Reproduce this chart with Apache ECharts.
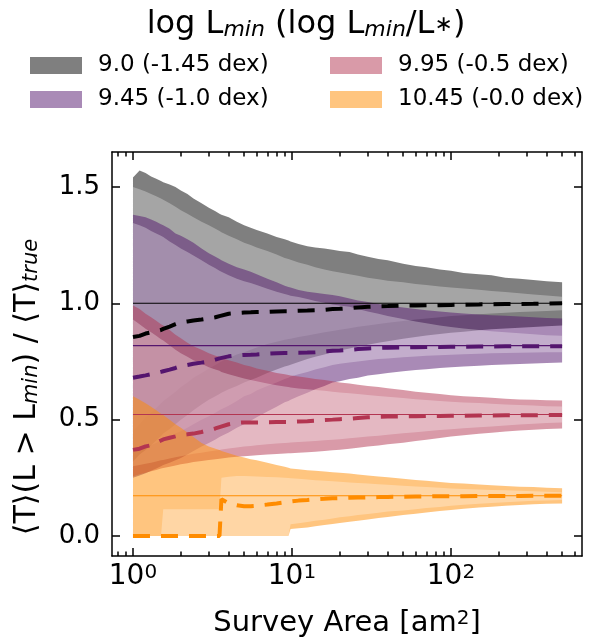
<!DOCTYPE html>
<html><head><meta charset="utf-8">
<script src="https://cdn.jsdelivr.net/npm/echarts@6/dist/echarts.min.js"></script>
<style>html,body{margin:0;padding:0;background:#fff}#c{width:612px;height:638px}</style>
</head><body><div id="c"></div>
<script>
// ---------- data ----------
const area = [1, 1.1, 1.2, 1.3, 1.4, 1.5, 1.55, 1.7, 1.85, 2,
  2.2, 2.4, 2.7, 3, 3.3, 3.5, 3.6, 4, 4.5, 5,
  5.5, 6, 7, 8, 9, 9.5, 9.8, 11, 12.5, 14,
  16, 18, 20, 23, 26, 30, 35, 40, 50, 60,
  70, 85, 100, 120, 150, 180, 220, 270, 330, 400, 500];

// each group: outer-lower, inner-lower, median, inner-upper, outer-upper
const grayOU = [1.54, 1.57, 1.56, 1.545, 1.535, 1.525, 1.52, 1.51, 1.50, 1.485,
  1.47, 1.45, 1.43, 1.41, 1.395, 1.385, 1.38, 1.37, 1.35, 1.335,
  1.325, 1.315, 1.30, 1.285, 1.275, 1.27, 1.265, 1.255, 1.245, 1.24,
  1.235, 1.23, 1.225, 1.22, 1.21, 1.20, 1.19, 1.185, 1.17, 1.16,
  1.155, 1.145, 1.14, 1.13, 1.125, 1.12, 1.11, 1.105, 1.10, 1.095, 1.09];
const grayIU = [1.50, 1.49, 1.48, 1.47, 1.46, 1.45, 1.445, 1.43, 1.415, 1.40,
  1.385, 1.37, 1.35, 1.335, 1.32, 1.31, 1.305, 1.29, 1.275, 1.26,
  1.25, 1.24, 1.225, 1.21, 1.195, 1.19, 1.187, 1.175, 1.165, 1.155,
  1.145, 1.138, 1.132, 1.125, 1.118, 1.11, 1.103, 1.097, 1.09, 1.083,
  1.078, 1.072, 1.068, 1.063, 1.058, 1.053, 1.048, 1.043, 1.038, 1.033, 1.028];
const grayMD = [0.855, 0.86, 0.87, 0.875, 0.88, 0.885, 0.89, 0.90, 0.91, 0.918,
  0.922, 0.926, 0.93, 0.935, 0.94, 0.945, 0.948, 0.955, 0.958, 0.96,
  0.961, 0.962, 0.963, 0.965, 0.966, 0.966, 0.967, 0.968, 0.969, 0.97,
  0.972, 0.975, 0.976, 0.979, 0.982, 0.985, 0.987, 0.988, 0.99, 0.99,
  0.991, 0.992, 0.993, 0.994, 0.995, 0.996, 0.997, 0.997, 0.998, 0.999, 1.0];
const grayIL = [0.45, 0.48, 0.51, 0.53, 0.55, 0.57, 0.58, 0.60, 0.62, 0.64,
  0.66, 0.68, 0.70, 0.72, 0.735, 0.745, 0.75, 0.765, 0.78, 0.79,
  0.80, 0.81, 0.825, 0.835, 0.843, 0.846, 0.848, 0.855, 0.862, 0.868,
  0.875, 0.881, 0.886, 0.893, 0.899, 0.905, 0.911, 0.916, 0.924, 0.93,
  0.935, 0.94, 0.945, 0.949, 0.953, 0.956, 0.959, 0.962, 0.965, 0.967, 0.97];
const grayOL = [0.32, 0.35, 0.37, 0.39, 0.41, 0.43, 0.44, 0.46, 0.48, 0.50,
  0.52, 0.54, 0.565, 0.585, 0.60, 0.61, 0.615, 0.63, 0.645, 0.66,
  0.67, 0.68, 0.70, 0.715, 0.728, 0.733, 0.736, 0.748, 0.76, 0.77,
  0.78, 0.79, 0.797, 0.806, 0.814, 0.822, 0.83, 0.837, 0.847, 0.855,
  0.861, 0.868, 0.873, 0.878, 0.884, 0.888, 0.892, 0.895, 0.898, 0.901, 0.904];

const purpleOU = [1.38, 1.375, 1.37, 1.36, 1.35, 1.34, 1.335, 1.32, 1.30, 1.29,
  1.275, 1.26, 1.235, 1.215, 1.20, 1.19, 1.185, 1.17, 1.155, 1.145,
  1.135, 1.125, 1.105, 1.09, 1.075, 1.07, 1.068, 1.057, 1.05, 1.045,
  1.04, 1.035, 1.03, 1.02, 1.012, 1.005, 0.997, 0.99, 0.982, 0.975,
  0.97, 0.965, 0.96, 0.956, 0.952, 0.949, 0.946, 0.943, 0.94, 0.937, 0.935];
const purpleIU = [1.345, 1.335, 1.325, 1.31, 1.30, 1.29, 1.285, 1.265, 1.25, 1.235,
  1.22, 1.205, 1.185, 1.165, 1.15, 1.14, 1.135, 1.12, 1.105, 1.095,
  1.087, 1.078, 1.062, 1.05, 1.04, 1.035, 1.032, 1.027, 1.018, 1.01,
  1.002, 0.995, 0.99, 0.985, 0.975, 0.965, 0.955, 0.945, 0.932, 0.922,
  0.914, 0.905, 0.898, 0.892, 0.885, 0.88, 0.875, 0.871, 0.867, 0.863, 0.86];
const purpleMD = [0.68, 0.685, 0.69, 0.695, 0.70, 0.705, 0.708, 0.715, 0.722, 0.73,
  0.735, 0.74, 0.745, 0.75, 0.758, 0.763, 0.765, 0.772, 0.776, 0.778,
  0.779, 0.78, 0.783, 0.785, 0.786, 0.786, 0.787, 0.787, 0.788, 0.79,
  0.793, 0.796, 0.797, 0.80, 0.803, 0.806, 0.808, 0.809, 0.81, 0.811,
  0.812, 0.812, 0.813, 0.813, 0.814, 0.814, 0.815, 0.815, 0.815, 0.815, 0.815];
const purpleIL = [0.36, 0.37, 0.38, 0.39, 0.40, 0.41, 0.415, 0.425, 0.44, 0.45,
  0.465, 0.48, 0.50, 0.515, 0.53, 0.54, 0.545, 0.56, 0.58, 0.60,
  0.61, 0.625, 0.645, 0.66, 0.675, 0.68, 0.685, 0.695, 0.705, 0.715,
  0.725, 0.735, 0.74, 0.745, 0.75, 0.755, 0.76, 0.763, 0.768, 0.771,
  0.774, 0.777, 0.779, 0.781, 0.783, 0.785, 0.786, 0.787, 0.788, 0.789, 0.79];
const purpleOL = [0.25, 0.26, 0.27, 0.28, 0.29, 0.30, 0.305, 0.315, 0.325, 0.335,
  0.35, 0.365, 0.385, 0.40, 0.415, 0.425, 0.43, 0.445, 0.465, 0.48,
  0.495, 0.51, 0.535, 0.555, 0.575, 0.58, 0.585, 0.60, 0.615, 0.63,
  0.645, 0.66, 0.665, 0.675, 0.68, 0.69, 0.695, 0.70, 0.708, 0.713,
  0.717, 0.722, 0.725, 0.728, 0.732, 0.735, 0.737, 0.739, 0.741, 0.743, 0.745];

const pinkOU = [0.99, 0.975, 0.955, 0.94, 0.925, 0.91, 0.905, 0.885, 0.865, 0.85,
  0.83, 0.815, 0.80, 0.785, 0.775, 0.77, 0.765, 0.755, 0.745, 0.735,
  0.728, 0.72, 0.71, 0.70, 0.695, 0.692, 0.69, 0.685, 0.68, 0.675,
  0.67, 0.665, 0.66, 0.655, 0.65, 0.645, 0.64, 0.635, 0.627, 0.62,
  0.615, 0.61, 0.605, 0.60, 0.597, 0.594, 0.59, 0.587, 0.585, 0.583, 0.582];
const pinkIU = [0.93, 0.91, 0.89, 0.875, 0.86, 0.845, 0.84, 0.82, 0.80, 0.785,
  0.77, 0.755, 0.74, 0.725, 0.715, 0.71, 0.705, 0.695, 0.685, 0.677,
  0.67, 0.665, 0.655, 0.648, 0.642, 0.64, 0.638, 0.634, 0.63, 0.627,
  0.624, 0.62, 0.617, 0.613, 0.61, 0.606, 0.602, 0.598, 0.593, 0.588,
  0.584, 0.58, 0.577, 0.574, 0.571, 0.568, 0.565, 0.563, 0.561, 0.558, 0.556];
const pinkMD = [0.37, 0.375, 0.385, 0.39, 0.40, 0.41, 0.415, 0.422, 0.428, 0.434,
  0.437, 0.44, 0.447, 0.455, 0.462, 0.468, 0.47, 0.48, 0.486, 0.488,
  0.488, 0.488, 0.489, 0.49, 0.49, 0.49, 0.491, 0.492, 0.493, 0.495,
  0.498, 0.50, 0.502, 0.504, 0.507, 0.51, 0.512, 0.513, 0.514, 0.515,
  0.516, 0.516, 0.517, 0.517, 0.518, 0.518, 0.519, 0.519, 0.519, 0.52, 0.52];
const pinkIL = [0.30, 0.305, 0.31, 0.315, 0.32, 0.325, 0.327, 0.333, 0.338, 0.343,
  0.348, 0.353, 0.358, 0.363, 0.367, 0.37, 0.372, 0.376, 0.38, 0.384,
  0.387, 0.39, 0.394, 0.397, 0.40, 0.401, 0.402, 0.404, 0.406, 0.408,
  0.411, 0.414, 0.416, 0.42, 0.423, 0.427, 0.431, 0.435, 0.441, 0.446,
  0.45, 0.455, 0.459, 0.463, 0.467, 0.471, 0.475, 0.479, 0.482, 0.485, 0.488];
const pinkOL = [0.257, 0.265, 0.272, 0.278, 0.284, 0.29, 0.292, 0.298, 0.303, 0.308,
  0.313, 0.318, 0.322, 0.326, 0.33, 0.332, 0.333, 0.337, 0.34, 0.343,
  0.345, 0.347, 0.35, 0.352, 0.354, 0.355, 0.356, 0.358, 0.36, 0.362,
  0.365, 0.368, 0.371, 0.375, 0.379, 0.384, 0.389, 0.394, 0.401, 0.408,
  0.414, 0.421, 0.427, 0.433, 0.439, 0.444, 0.449, 0.453, 0.457, 0.46, 0.462];

const orangeOU = [0.60, 0.585, 0.57, 0.555, 0.54, 0.525, 0.52, 0.50, 0.48, 0.465,
  0.445, 0.425, 0.40, 0.385, 0.375, 0.37, 0.365, 0.355, 0.345, 0.337,
  0.33, 0.325, 0.315, 0.305, 0.297, 0.293, 0.29, 0.287, 0.283, 0.28,
  0.277, 0.274, 0.272, 0.268, 0.264, 0.26, 0.256, 0.252, 0.246, 0.241,
  0.237, 0.232, 0.228, 0.225, 0.221, 0.218, 0.215, 0.212, 0.21, 0.207, 0.205];
const orangeIU = [0, 0, 0, 0, 0, 0, 0.115, 0.115, 0.115, 0.115,
  0.115, 0.115, 0.115, 0.115, 0.115, 0.115, 0.25, 0.255, 0.258, 0.258,
  0.257, 0.256, 0.254, 0.252, 0.25, 0.249, 0.248, 0.246, 0.243, 0.24,
  0.237, 0.235, 0.233, 0.23, 0.228, 0.225, 0.222, 0.22, 0.216, 0.213,
  0.21, 0.207, 0.204, 0.202, 0.2, 0.198, 0.196, 0.194, 0.192, 0.19, 0.188];
const orangeMD = [0, 0, 0, 0, 0, 0, 0, 0, 0, 0,
  0, 0, 0, 0, 0, 0, 0.158, 0.14, 0.132, 0.128,
  0.128, 0.13, 0.135, 0.14, 0.145, 0.147, 0.148, 0.152, 0.155, 0.158,
  0.16, 0.162, 0.163, 0.164, 0.165, 0.166, 0.167, 0.168, 0.169, 0.17,
  0.17, 0.171, 0.171, 0.171, 0.172, 0.172, 0.172, 0.172, 0.173, 0.173, 0.173];
const orangeIL = [0, 0, 0, 0, 0, 0, 0, 0, 0, 0,
  0, 0, 0, 0, 0, 0, 0, 0, 0, 0,
  0, 0, 0, 0, 0, 0, 0.05, 0.055, 0.06, 0.065,
  0.07, 0.075, 0.08, 0.085, 0.09, 0.095, 0.10, 0.105, 0.11, 0.115,
  0.12, 0.125, 0.13, 0.134, 0.138, 0.142, 0.145, 0.148, 0.151, 0.153, 0.155];
const orangeOL = [0, 0, 0, 0, 0, 0, 0, 0, 0, 0,
  0, 0, 0, 0, 0, 0, 0, 0, 0, 0,
  0, 0, 0, 0, 0, 0, 0.03, 0.033, 0.037, 0.042,
  0.047, 0.052, 0.056, 0.061, 0.066, 0.071, 0.077, 0.082, 0.09, 0.096,
  0.101, 0.107, 0.112, 0.117, 0.122, 0.126, 0.13, 0.133, 0.136, 0.138, 0.14];

const groupNames = ['9.0 (-1.45 dex)', '9.45 (-1.0 dex)', '9.95 (-0.5 dex)', '10.45 (-0.0 dex)'];
const trueValues = [1.0, 0.818, 0.522, 0.173];
const lineEnds = [1, 500];
const xMajorTicks = [1, 10, 100];
const xMinorTicks = [0.8, 0.9, 2, 3, 4, 5, 6, 7, 8, 9, 20, 30, 40, 50, 60, 70, 80, 90, 200, 300, 400, 500, 600];
const yTicks = [0, 0.5, 1.0, 1.5];

// ---------- styling ----------
const FONT = 'DejaVu Sans';
const baseRGB = [[0, 0, 0], [84, 21, 110], [179, 53, 81], [255, 140, 0]];
const OUTER_A = 0.5, INNER_WHITE_A = 0.3;
const rgba = (c, a) => `rgba(${c[0]},${c[1]},${c[2]},${a})`;
const groups = [
  [grayOL, grayIL, grayMD, grayIU, grayOU],
  [purpleOL, purpleIL, purpleMD, purpleIU, purpleOU],
  [pinkOL, pinkIL, pinkMD, pinkIU, pinkOU],
  [orangeOL, orangeIL, orangeMD, orangeIU, orangeOU]
];

function band(lo, hi, fill) {
  return {
    type: 'custom', coordinateSystem: 'cartesian2d', xAxisIndex: 0, yAxisIndex: 0,
    silent: true, clip: true,
    data: area.map((x, i) => [x, lo[i], hi[i]]),
    encode: { x: 0, y: [1, 2] },
    renderItem: function (params, api) {
      if (params.dataIndex !== 0) return null;
      const pts = [];
      for (let i = 0; i < area.length; i++) pts.push(api.coord([area[i], hi[i]]));
      for (let i = area.length - 1; i >= 0; i--) pts.push(api.coord([area[i], lo[i]]));
      return { type: 'polygon', shape: { points: pts }, style: { fill: fill, stroke: null } };
    }
  };
}

const series = [];
groups.forEach((g, k) => {
  const [ol, il, md, iu, ou] = g;
  series.push(band(ol, ou, rgba(baseRGB[k], OUTER_A)));           // outer band
  series.push(band(il, iu, rgba([255, 255, 255], INNER_WHITE_A))); // lighter inner band
});
groups.forEach((g, k) => {
  series.push({
    type: 'line', xAxisIndex: 0, yAxisIndex: 0, silent: true, symbol: 'none',
    data: lineEnds.map(x => [x, trueValues[k]]),
    lineStyle: { color: rgba(baseRGB[k], 1), width: 1.2 }, z: 5
  });
});
groups.forEach((g, k) => {
  series.push({
    type: 'line', xAxisIndex: 0, yAxisIndex: 0, silent: true, symbol: 'none',
    data: area.map((x, i) => [x, g[2][i]]),
    lineStyle: { color: rgba(baseRGB[k], 1), width: 4, type: [17, 11], cap: 'butt' }, z: 6
  });
});
groupNames.forEach((n, k) => {
  series.push({ type: 'scatter', name: n, data: [], itemStyle: { color: rgba(baseRGB[k], OUTER_A), opacity: 1 } });
});

const XMIN = 0.738, XMAX = 667, YMIN = -0.086, YMAX = 1.65;
const tickLine = { color: '#000', width: 1.5 };
function xAx(pos, major, labels) {
  return {
    type: 'log', logBase: 10, min: XMIN, max: XMAX, position: pos,
    axisLine: { show: major, onZero: false, lineStyle: { color: '#000', width: 1.5 } },
    axisTick: { show: true, inside: true, length: major ? 8 : 4.5, lineStyle: tickLine,
      customValues: major ? xMajorTicks : xMinorTicks },
    axisLabel: labels ? {
      show: true, customValues: xMajorTicks, margin: 7, color: '#000',
      fontFamily: FONT, fontSize: 28,
      formatter: v => '10{sup|' + Math.round(Math.log10(v)) + '}',
      rich: { sup: { fontFamily: FONT, fontSize: 20, verticalAlign: 'top', color: '#000' } }
    } : { show: false },
    splitLine: { show: false }, minorTick: { show: false }, minorSplitLine: { show: false }
  };
}
const xAxes = [xAx('bottom', true, true), xAx('bottom', false, false), xAx('top', true, false), xAx('top', false, false)];
Object.assign(xAxes[0], {
  name: 'Survey Area [am{sup|2}]', nameLocation: 'middle', nameGap: 53,
  nameTextStyle: { fontFamily: FONT, fontSize: 29, color: '#000',
    rich: { sup: { fontFamily: FONT, fontSize: 20, verticalAlign: 'top', color: '#000' } } }
});
function yAx(pos, labels) {
  return {
    type: 'value', min: YMIN, max: YMAX, position: pos,
    axisLine: { show: true, onZero: false, lineStyle: { color: '#000', width: 1.5 } },
    axisTick: { show: true, inside: true, length: 8, lineStyle: tickLine, customValues: yTicks },
    axisLabel: labels ? { show: true, customValues: yTicks, margin: 12, color: '#000',
      fontFamily: FONT, fontSize: 26, formatter: v => v.toFixed(1) } : { show: false },
    splitLine: { show: false }
  };
}
const yAxes = [yAx('left', true), yAx('right', false)];
Object.assign(yAxes[0], {
  name: '⟨T⟩(L > L{sub|min}) / ⟨T⟩{sub|true}', nameLocation: 'middle', nameGap: 70, nameRotate: 90,
  nameTextStyle: { fontFamily: FONT, fontSize: 30, color: '#000', padding: [0, 66, 0, 0],
    rich: { sub: { fontFamily: FONT, fontSize: 21, fontStyle: 'italic', verticalAlign: 'bottom', color: '#000' } } }
});

const legendCommon = {
  orient: 'vertical', top: 54, itemWidth: 63, itemHeight: 17, itemGap: 11, padding: 0,
  icon: 'path://M0,0L52,0L52,17L0,17Z M63,17L63,17', selectedMode: false,
  textStyle: { fontFamily: FONT, fontSize: 23, color: '#000' }
};

const chart = echarts.init(document.getElementById('c'), null, { renderer: 'canvas' });
chart.setOption({
  animation: false,
  backgroundColor: '#fff',
  textStyle: { fontFamily: FONT },
  title: {
    text: 'log L{sub|min} (log L{sub|min}/L{ast|∗})', left: 'center', top: 4,
    textStyle: { fontFamily: FONT, fontSize: 32, fontWeight: 'normal', color: '#000',
      rich: {
        sub: { fontFamily: FONT, fontSize: 22, fontStyle: 'italic', verticalAlign: 'bottom', color: '#000' },
        ast: { fontFamily: FONT, fontSize: 22, color: '#000' }
      } }
  },
  legend: [
    Object.assign({}, legendCommon, { left: 30, data: [groupNames[0], groupNames[1]] }),
    Object.assign({}, legendCommon, { left: 330, data: [groupNames[2], groupNames[3]] })
  ],
  grid: { left: 112, right: 30, top: 152, bottom: 82, containLabel: false, outerBoundsMode: 'none' },
  xAxis: xAxes,
  yAxis: yAxes,
  series: series
});
</script>
</body></html>
